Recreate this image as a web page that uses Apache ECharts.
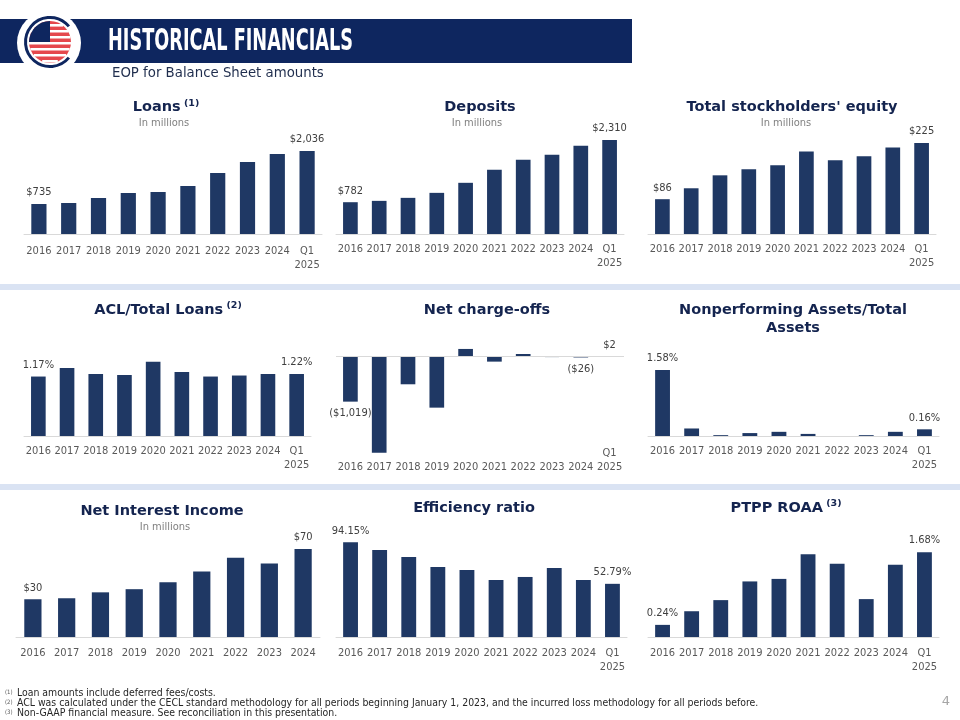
<!DOCTYPE html>
<html>
<head>
<meta charset="utf-8">
<script src="https://cdn.jsdelivr.net/npm/echarts@6/dist/echarts.min.js"></script>
<style>
html,body{margin:0;padding:0;background:#fff;}
#chart{width:960px;height:720px;}
</style>
</head>
<body>
<div id="chart"></div>
<script>
// ---------- data ----------
const categories = ['2016','2017','2018','2019','2020','2021','2022','2023','2024','Q1\n2025'];
const niiCategories = ['2016','2017','2018','2019','2020','2021','2022','2023','2024'];
const loans = [735, 760, 882, 1005, 1029, 1176, 1495, 1764, 1960, 2036];
const deposits = [782, 815, 889, 1012, 1259, 1580, 1827, 1950, 2173, 2310];
const equity = [86, 113, 145, 160, 170, 204, 182, 192, 214, 225];
const aclRatio = [1.17, 1.34, 1.22, 1.20, 1.46, 1.26, 1.17, 1.19, 1.22, 1.22];
const netChargeOffs = [-1019, -2165, -629, -1154, 165, -120, 52, -18, -26, 2];
const npaRatio = [1.58, 0.18, 0.02, 0.07, 0.10, 0.05, 0.00, 0.02, 0.10, 0.16];
const netInterestIncome = [30, 30.8, 35.5, 38, 43.5, 52, 63, 58.5, 70];
const efficiencyRatio = [94.15, 86.4, 79.4, 69.5, 66.5, 56.6, 59.6, 68.5, 56.6, 52.79];
const ptppRoaa = [0.24, 0.51, 0.73, 1.10, 1.15, 1.64, 1.45, 0.75, 1.43, 1.68];
const ncoLabelIdx = [0, 8, 9];
const footnotes = [
  ['(1)', 'Loan amounts include deferred fees/costs.'],
  ['(2)', 'ACL was calculated under the CECL standard methodology for all periods beginning January 1, 2023, and the incurred loss methodology for all periods before.'],
  ['(3)', 'Non-GAAP financial measure. See reconciliation in this presentation.']
];

// ---------- styles ----------
const NAVY = '#0e265f';
const BAR = '#1f3864';
const TITLE = '#14244f';
const CF = '"DejaVu Sans Condensed", "DejaVu Sans", sans-serif';

const dollar = v => '$' + Math.round(Math.abs(v)).toLocaleString('en-US');
const money = v => v < 0 ? '(' + dollar(v) + ')' : dollar(v);
const pct = v => v.toFixed(2) + '%';

const grids = [], xAxes = [], yAxes = [], series = [];

function panel(o) {
  const i = grids.length;
  grids.push({left: o.left, top: o.top, width: o.width, height: o.height});
  xAxes.push({
    type: 'category', gridIndex: i, data: o.cats,
    axisLine: {show: !o.zeroLine, onZero: false, lineStyle: {color: '#d9d9d9', width: 1}},
    axisTick: {show: false},
    axisLabel: {interval: 0, color: '#595959', fontFamily: CF, fontSize: 11, lineHeight: 14,
      margin: o.margin, verticalAlign: o.labelBottom ? 'bottom' : 'top'}
  });
  yAxes.push({type: 'value', gridIndex: i, min: o.min || 0, max: o.max, show: false, splitLine: {show: false}});
  const idx = o.labelIdx || [0, o.data.length - 1];
  series.push({
    type: 'bar', xAxisIndex: i, yAxisIndex: i, barWidth: '51%',
    itemStyle: {color: BAR},
    data: o.data.map((v, k) => ({
      value: v,
      label: {
        show: idx.indexOf(k) >= 0,
        position: v < 0 ? 'bottom' : 'top',
        distance: 6,
        formatter: p => o.fmt(p.value),
        color: '#404040', fontFamily: CF, fontSize: 11
      }
    })),
    markLine: o.zeroLine ? {
      silent: true, symbol: ['none', 'none'], label: {show: false},
      lineStyle: {color: '#d9d9d9', type: 'solid', width: 1},
      data: [{yAxis: 0}]
    } : undefined
  });
}

// Row 1
panel({left: 24, width: 298, top: 130, height: 104, max: 2548, cats: categories, data: loans, fmt: money, margin: 10});
panel({left: 336, width: 288, top: 130, height: 104, max: 2558, cats: categories, data: deposits, fmt: money, margin: 8});
panel({left: 648, width: 288, top: 130, height: 104, max: 257, cats: categories, data: equity, fmt: money, margin: 8});
// Row 2
panel({left: 24, width: 287, top: 340, height: 96, max: 1.889, cats: categories, data: aclRatio, fmt: pct, margin: 8});
panel({left: 336, width: 288, top: 340, height: 115, min: -2218, max: 366, cats: categories, data: netChargeOffs,
  fmt: money, margin: 19, labelBottom: true, zeroLine: true, labelIdx: ncoLabelIdx});
panel({left: 648, width: 291, top: 340, height: 96, max: 2.298, cats: categories, data: npaRatio, fmt: pct, margin: 8});
// Row 3
panel({left: 16, width: 304, top: 540, height: 97, max: 77.1, cats: niiCategories, data: netInterestIncome, fmt: money, margin: 9});
panel({left: 336, width: 291, top: 540, height: 97, max: 96.3, cats: categories, data: efficiencyRatio, fmt: pct, margin: 9});
panel({left: 648, width: 291, top: 540, height: 97, max: 1.92, cats: categories, data: ptppRoaa, fmt: pct, margin: 9});

// ---------- graphics ----------
const graphic = [];
// divider bands
graphic.push({type: 'rect', shape: {x: 0, y: 284, width: 960, height: 6}, style: {fill: '#dae3f3'}});
graphic.push({type: 'rect', shape: {x: 0, y: 484, width: 960, height: 6}, style: {fill: '#dae3f3'}});
// header banner
graphic.push({type: 'rect', shape: {x: 0, y: 19, width: 632, height: 44}, style: {fill: NAVY}});
graphic.push({type: 'circle', shape: {cx: 49, cy: 43, r: 32}, style: {fill: '#ffffff'}});
graphic.push({type: 'circle', shape: {cx: 50, cy: 42, r: 21}, style: {fill: '#e5484d'}});
for (let dy = -18; dy <= 18; dy += 6) {
  const hw = Math.sqrt(21 * 21 - (dy + 1.5) * (dy + 1.5));
  graphic.push({type: 'rect', shape: {x: 50 - hw, y: 42 + dy, width: 2 * hw, height: 2.6}, style: {fill: '#ffffff'}});
}
graphic.push({type: 'sector', shape: {cx: 50, cy: 42, r: 21, r0: 0, startAngle: Math.PI, endAngle: Math.PI * 1.5}, style: {fill: NAVY}});
graphic.push({type: 'arc', shape: {cx: 50, cy: 42, r: 24.5, startAngle: Math.PI * 0.22, endAngle: Math.PI * 1.78, clockwise: true},
  style: {stroke: NAVY, lineWidth: 3, fill: null}});

const headFont = 'bold 31px "DejaVu Sans Condensed"';
const mctx = document.createElement('canvas').getContext('2d');
mctx.font = headFont;
const headW = mctx.measureText('HISTORICAL FINANCIALS').width || 400;
graphic.push({type: 'text', x: 108, y: 42, scaleX: 245 / headW,
  style: {text: 'HISTORICAL FINANCIALS', fill: '#ffffff', font: headFont, verticalAlign: 'middle', textVerticalAlign: 'middle'}});
graphic.push({type: 'text', x: 112, y: 74,
  style: {text: 'EOP for Balance Sheet amounts', fill: '#1f2d4d', font: '13.3px "DejaVu Sans"', verticalAlign: 'middle', textVerticalAlign: 'middle'}});

// panel titles
function title(x, y, main, sup) {
  const txt = sup ? '{a|' + main + '} {s|' + sup + '}' : '{a|' + main + '}';
  graphic.push({type: 'text', x: x, y: y, style: {
    text: txt, align: 'center', verticalAlign: 'middle', textAlign: 'center', textVerticalAlign: 'middle',
    fill: TITLE,
    rich: {
      a: {fontFamily: '"DejaVu Sans", sans-serif', fontWeight: 'bold', fontSize: 14.5, fill: TITLE, lineHeight: 18},
      s: {fontFamily: '"DejaVu Sans", sans-serif', fontWeight: 'bold', fontSize: 9.5, fill: TITLE, lineHeight: 12, verticalAlign: 'top'}
    }
  }});
}
function sub(x, y, t) {
  graphic.push({type: 'text', x: x, y: y, style: {text: t, fill: '#808080', font: '11px ' + CF,
    align: 'center', verticalAlign: 'middle', textAlign: 'center', textVerticalAlign: 'middle'}});
}
title(166, 107.5, 'Loans', '(1)'); sub(164, 123.5, 'In millions');
title(480, 107.5, 'Deposits'); sub(477, 123.5, 'In millions');
title(792, 107.5, "Total stockholders' equity"); sub(786, 123.5, 'In millions');
title(168, 310, 'ACL/Total Loans', '(2)');
title(487, 310, 'Net charge-offs');
graphic.push({type: 'text', x: 793, y: 319, style: {
  text: 'Nonperforming Assets/Total\nAssets', align: 'center', verticalAlign: 'middle', textAlign: 'center', textVerticalAlign: 'middle',
  fill: TITLE, font: 'bold 14.5px "DejaVu Sans"', lineHeight: 18}});
title(162, 511.5, 'Net Interest Income'); sub(165, 527, 'In millions');
title(474, 508, 'Efficiency ratio');
title(786, 508, 'PTPP ROAA', '(3)');

// footnotes
footnotes.forEach((f, k) => {
  const y = 693.5 + k * 10;
  graphic.push({type: 'text', x: 5, y: y - 1.5, style: {text: f[0], fill: '#595959', font: '6px ' + CF, verticalAlign: 'middle', textVerticalAlign: 'middle'}});
  graphic.push({type: 'text', x: 17, y: y, style: {text: f[1], fill: '#262626', font: '10.4px ' + CF, verticalAlign: 'middle', textVerticalAlign: 'middle'}});
});
graphic.push({type: 'text', x: 946, y: 702, style: {text: '4', fill: '#a6a6a6', font: '13px "DejaVu Sans"', align: 'center', verticalAlign: 'middle', textAlign: 'center', textVerticalAlign: 'middle'}});

const chart = echarts.init(document.getElementById('chart'), null, {renderer: 'canvas'});
chart.setOption({
  animation: false,
  backgroundColor: '#ffffff',
  grid: grids, xAxis: xAxes, yAxis: yAxes, series: series,
  graphic: graphic
});
</script>
</body>
</html>
